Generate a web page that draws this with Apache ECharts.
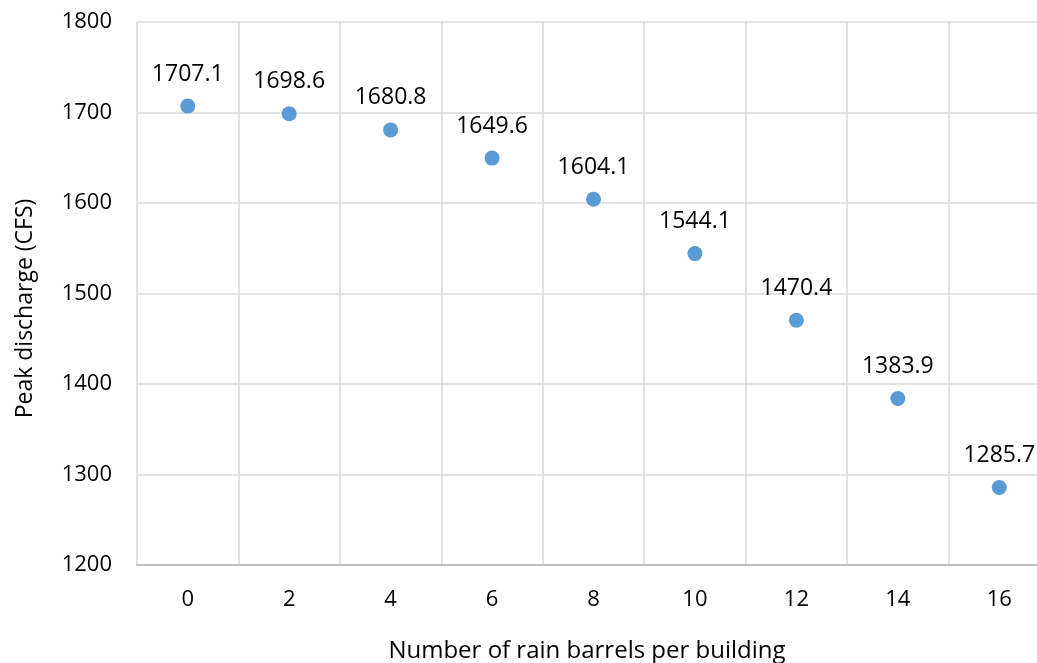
<!DOCTYPE html>
<html>
<head>
<meta charset="utf-8">
<script src="https://cdn.jsdelivr.net/npm/echarts@6/dist/echarts.min.js"></script>
<style>
  html, body { margin: 0; padding: 0; background: #ffffff; }
  #chart { width: 1037px; height: 663px; }
</style>
</head>
<body>
<div id="chart"></div>
<script>
// Rain barrels per building (x categories) and resulting peak discharge (CFS)
const barrels = ['0', '2', '4', '6', '8', '10', '12', '14', '16'];
const peakDischarge = [1707.1, 1698.6, 1680.8, 1649.6, 1604.1, 1544.1, 1470.4, 1383.9, 1285.7];
const xTitle = 'Number of rain barrels per building';
const yTitle = 'Peak discharge (CFS)';

const FONT = '"Open Sans", "Noto Sans", sans-serif';
const TEXT = '#000000';

const chart = echarts.init(document.getElementById('chart'), null, { renderer: 'canvas' });
chart.setOption({
  animation: false,
  backgroundColor: '#ffffff',
  // plot area runs past the right edge of the canvas
  grid: { left: 137, top: 22, width: 913, height: 543, containLabel: false, outerBoundsMode: 'none' },
  xAxis: {
    type: 'category',
    data: barrels,
    boundaryGap: true,
    name: xTitle,
    nameLocation: 'middle',
    nameGap: 74,
    nameTextStyle: { fontFamily: FONT, fontSize: 24, color: TEXT, padding: [0, 13, 0, 0] },
    axisLine: { show: true, lineStyle: { color: '#bfbfbf', width: 2 } },
    axisTick: { show: false },
    axisLabel: { fontFamily: FONT, fontSize: 22, color: TEXT, margin: 24 },
    splitLine: { show: true, lineStyle: { color: '#d9d9d9', width: 1.5 } }
  },
  yAxis: {
    type: 'value',
    min: 1200,
    max: 1800,
    interval: 100,
    name: yTitle,
    nameLocation: 'middle',
    nameGap: 100,
    nameTextStyle: { fontFamily: FONT, fontSize: 23, color: TEXT, padding: [0, 30, 0, 0] },
    axisLine: { show: false },
    axisTick: { show: false },
    axisLabel: { fontFamily: FONT, fontSize: 22, color: TEXT, margin: 25, formatter: v => String(v) },
    splitLine: { show: true, lineStyle: { color: '#d9d9d9', width: 1.5 } }
  },
  series: [{
    type: 'scatter',
    data: peakDischarge,
    symbol: 'circle',
    symbolSize: 15,
    itemStyle: { color: '#5b9bd5', opacity: 1 },
    label: {
      show: true,
      position: 'top',
      distance: 13,
      fontFamily: FONT,
      fontSize: 23,
      lineHeight: 23,
      color: TEXT,
      opacity: 1,
      formatter: p => p.value.toFixed(1)
    }
  }]
});
</script>
</body>
</html>
